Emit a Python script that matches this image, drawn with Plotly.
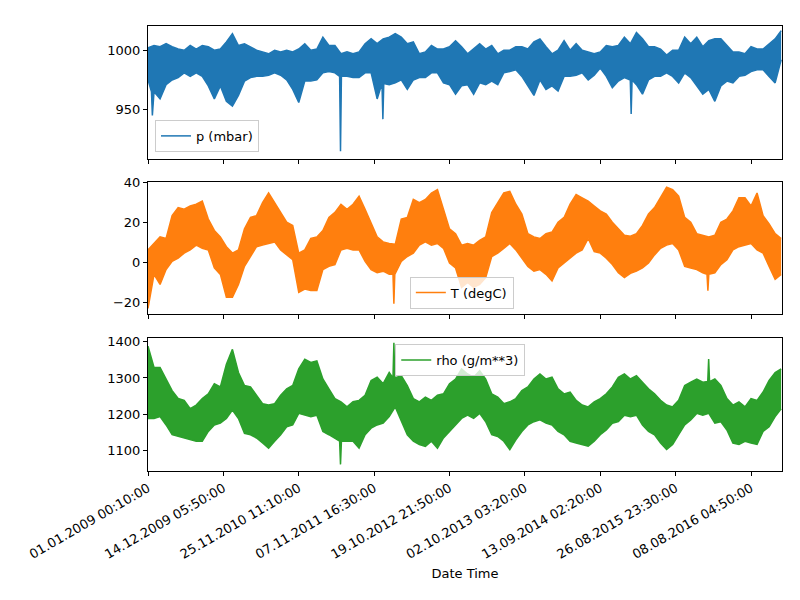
import plotly.graph_objects as go
from plotly.subplots import make_subplots

# sample positions (row index of the 10-minute series)
sample_idx = list(range(0, 420001, 4000))

tick_pos = [0, 50000, 100000, 150000, 200000, 250000, 300000, 350000, 400000]
tick_labels = ["01.01.2009 00:10:00", "14.12.2009 05:50:00", "25.11.2010 11:10:00",
               "07.11.2011 16:30:00", "19.10.2012 21:50:00", "02.10.2013 03:20:00",
               "13.09.2014 02:20:00", "26.08.2015 23:30:00", "08.08.2016 04:50:00"]

# upper / lower envelope of each series per sample window
p_hi = [1002, 1004, 1003, 1005.5, 1003, 1001, 1000, 1004, 1001, 1004, 1003, 1000, 1001, 1007, 1014, 1004,
        1005.5, 1003, 1000, 998.6, 997, 1000, 998.6, 1000, 998.6, 1001, 1005.5, 1000, 1001, 1011, 1004, 1004,
        997, 998.6, 997, 998.6, 1005.5, 1009.6, 1005.5, 1009.6, 1011, 1014, 1011, 1005.5, 1007, 997, 998.6,
        1004, 1001, 1001, 1003, 1008, 1003, 997, 1001, 1005.5, 1001, 1004, 997, 1000, 1000, 1003, 1003, 1001,
        1007, 1009.6, 1003, 997, 1000, 1008, 1000, 1005.5, 1000, 998.6, 997, 998.6, 1004, 1003, 1004, 1011,
        1005.5, 1015, 1009.6, 1003, 1003, 1001, 996, 1000, 1000, 1011, 1005.5, 1011, 1003, 1008, 1009.6,
        1009.6, 1004, 998.6, 998.6, 997, 1003, 1001, 1001, 1005.5, 1009.6, 1016.5]
p_lo = [975, 965, 959, 971, 975, 977, 981, 978, 981, 978, 970, 959, 970, 957, 953, 962, 974, 977, 978, 978,
        979, 981, 979, 975, 967, 956, 974, 974, 975, 981, 982, 981, 978, 978, 977, 977, 981, 981, 959, 972,
        971, 972.5, 975, 967, 975, 977, 977, 981, 981, 972.5, 971, 963, 970, 971, 963, 972.5, 971, 974, 971,
        981, 982, 983.5, 978, 970, 962, 975, 967, 970, 965.7, 978, 978, 979, 981, 975, 979, 985, 978, 968.4,
        974, 977, 975, 971, 963, 975, 978, 978, 981, 978, 972.5, 981, 977, 970, 963, 967, 957, 970, 974,
        972.5, 978, 979, 982, 983.5, 983.5, 978, 972.5, 992]
p_lo_spikes = [(2900, 945), (127700, 915), (155800, 942), (320500, 946.4)]
p_hi_spikes = []

T_hi = [6.2, 9.4, 12.7, 11.9, 23.3, 27.3, 26.5, 28.1, 29, 30.6, 21.6, 15.9, 12.7, 7.8, 4.6, 6.2, 16.7, 22.4,
        23.3, 29.8, 34.6, 29.8, 24.9, 20, 18.4, 4.6, 6.2, 11.9, 12.7, 15.9, 22.4, 24.9, 29, 26.5, 29, 33, 26.5,
        20, 12.7, 10.2, 9.4, 9, 21.6, 22.4, 31.4, 29.8, 31.4, 34.6, 36.3, 26.5, 16.7, 14.3, 8.6, 9.4, 8.6,
        11, 12.7, 24.9, 29.8, 34.6, 35.4, 29, 24.1, 14.3, 12.7, 11.9, 14.3, 15.1, 20, 22.4, 29, 33.8, 32.2,
        30.6, 28.1, 25.7, 24.1, 20, 16.7, 13.5, 13, 14.3, 18.4, 24.1, 27.3, 32.2, 37.5, 36.3, 33, 22.4, 20,
        14.3, 13.5, 12.7, 13.5, 20, 21.6, 25.7, 32.2, 32.2, 28.1, 34.6, 23.3, 19.2, 14.3, 11.9]
T_lo = [-23, -6, -11, -3.6, 0.5, 2.1, 4.6, 6.2, 8.6, 7, 6.2, -2.8, -6, -17.4, -17.4, -11, -2, 2.9, 7.8, 8.6,
        9.4, 10.2, 6.2, 3.7, 1.3, -15, -13.3, -14.1, -14.1, -3.6, -2, -1.1, 6.2, 7, 6.2, 6.2, 0.5, -3.6, -5.2,
        -4.4, -6, -6, 0.5, 2.9, 4.6, 8.6, 10.2, 8.6, 9.4, 7, -0.3, -2.8, -12.5, -10, -12.5, -11, -7.6, 2.9,
        4.6, 7, 9.4, 6.2, 2.1, -2, -4.4, -3.6, -6, -9.3, -2.8, -0.3, 2.1, 4.6, 6.2, 11.9, 5.4, 4.6, 2.1, -1.1,
        -5.2, -7.6, -5.5, -4.4, -2.8, -0.3, 3.7, 7, 8.6, 9.4, 6.2, -2, -2.8, -3.6, -5.2, -6, -5.2, -1.1,
        1.3, 6.2, 7.8, 8.6, 9.4, 6.2, 4.6, -2, -8.5, -6]
T_lo_spikes = [(163100, -20.6), (371400, -14.1)]
T_hi_spikes = []

rho_hi = [1388, 1329, 1329, 1297, 1265, 1243, 1238, 1215, 1225, 1243, 1256, 1284, 1275, 1338, 1379, 1315,
          1279, 1275, 1252, 1229, 1225, 1229, 1252, 1270, 1279, 1325, 1352, 1343, 1347, 1297, 1270, 1243,
          1234, 1220, 1234, 1238, 1252, 1293, 1302, 1284, 1315, 1300, 1306, 1279, 1243, 1234, 1247, 1238,
          1252, 1256, 1284, 1297, 1325, 1311, 1302, 1320, 1297, 1256, 1247, 1229, 1234, 1243, 1265, 1275,
          1297, 1311, 1297, 1302, 1270, 1256, 1261, 1238, 1225, 1220, 1234, 1243, 1256, 1275, 1302, 1311,
          1297, 1306, 1288, 1270, 1256, 1238, 1225, 1220, 1238, 1279, 1288, 1297, 1288, 1290, 1297, 1279,
          1243, 1225, 1234, 1220, 1243, 1238, 1261, 1293, 1315, 1325]
rho_lo = [1188, 1188, 1193, 1170, 1143, 1138, 1134, 1129, 1125, 1125, 1152, 1170, 1175, 1188, 1211, 1188,
          1147, 1143, 1134, 1120, 1106, 1125, 1143, 1165, 1170, 1202, 1197, 1193, 1197, 1152, 1143, 1134,
          1125, 1125, 1125, 1106, 1143, 1161, 1170, 1175, 1193, 1220, 1179, 1143, 1125, 1116, 1111, 1125,
          1106, 1134, 1152, 1170, 1188, 1197, 1188, 1202, 1179, 1143, 1138, 1125, 1102, 1129, 1152, 1170,
          1179, 1184, 1175, 1170, 1152, 1143, 1125, 1120, 1116, 1111, 1125, 1143, 1156, 1175, 1179, 1197,
          1193, 1197, 1170, 1152, 1143, 1120, 1102, 1116, 1143, 1170, 1184, 1202, 1197, 1202, 1175, 1179,
          1156, 1120, 1116, 1125, 1120, 1116, 1152, 1165, 1193, 1215]
rho_lo_spikes = [(127700, 1061)]
rho_hi_spikes = [(163100, 1397), (371900, 1352)]


def with_spikes(vals, spikes):
    pts = list(zip(sample_idx, vals))
    for s, v in spikes:
        j = min(range(len(sample_idx)), key=lambda k: abs(sample_idx[k] - s))
        base = vals[j]
        pts = [pt for pt in pts if abs(pt[0] - s) > 1000]
        pts += [(s - 600, base), (s, v), (s + 600, base)]
    pts.sort()
    return [q[0] for q in pts], [q[1] for q in pts]


series = [
    ("p (mbar)", p_hi, p_lo, p_hi_spikes, p_lo_spikes, "#1f77b4", "legend", 1),
    ("T (degC)", T_hi, T_lo, T_hi_spikes, T_lo_spikes, "#ff7f0e", "legend2", 2),
    ("rho (g/m**3)", rho_hi, rho_lo, rho_hi_spikes, rho_lo_spikes, "#2ca02c", "legend3", 3),
]

fig = make_subplots(rows=3, cols=1, shared_xaxes=True)
for name, hi, lo, hsp, lsp, color, leg, row in series:
    xl, yl = with_spikes(lo, lsp)
    xh, yh = with_spikes(hi, hsp)
    fig.add_trace(go.Scatter(x=xl, y=yl, mode="lines", name=name,
                             line=dict(color=color, width=1.5), legend=leg,
                             showlegend=True, hoverinfo="skip"), row=row, col=1)
    fig.add_trace(go.Scatter(x=xh, y=yh, mode="lines", name=name,
                             line=dict(color=color, width=1.5), fill="tonexty",
                             fillcolor=color, showlegend=False, hoverinfo="skip"),
                  row=row, col=1)

font = dict(family="DejaVu Sans", size=13, color="black")
axis_style = dict(showline=True, linecolor="black", linewidth=1, mirror=True,
                  ticks="outside", ticklen=4, tickwidth=1, tickcolor="black",
                  showgrid=False, zeroline=False, tickfont=font)

fig.update_layout(
    width=792, height=592,
    plot_bgcolor="white", paper_bgcolor="white",
    margin=dict(l=140, r=18, t=11, b=129),
    font=font,
)
doms = {1: [0.7013, 1.0], 2: [0.3518, 0.6504], 3: [0.0, 0.2987]}
yr = {1: [908.5, 1020.4], 2: [-26.0, 40.3], 3: [1042.7, 1410.2]}
ytv = {1: [950, 1000], 2: [-20, 0, 20, 40], 3: [1100, 1200, 1300, 1400]}
for r in (1, 2, 3):
    fig.update_yaxes(domain=doms[r], range=yr[r], tickvals=ytv[r], row=r, col=1, **axis_style)
    fig.update_xaxes(range=[0, 420550], tickvals=tick_pos, row=r, col=1, **axis_style)
fig.update_xaxes(showticklabels=False, row=1, col=1)
fig.update_xaxes(showticklabels=False, row=2, col=1)
fig.update_xaxes(ticktext=tick_labels, tickangle=-30, row=3, col=1,
                 title=dict(text="Date Time", font=font, standoff=8))

leg_common = dict(bgcolor="rgba(255,255,255,0.8)", bordercolor="#cccccc", borderwidth=1,
                  font=font, itemwidth=30)
fig.update_layout(
    legend=dict(x=0.011, y=0.717, xanchor="left", yanchor="bottom", **leg_common),
    legend2=dict(x=0.413, y=0.365, xanchor="left", yanchor="bottom", **leg_common),
    legend3=dict(x=0.39, y=0.285, xanchor="left", yanchor="top", **leg_common),
)

fig.write_html("out.html")
